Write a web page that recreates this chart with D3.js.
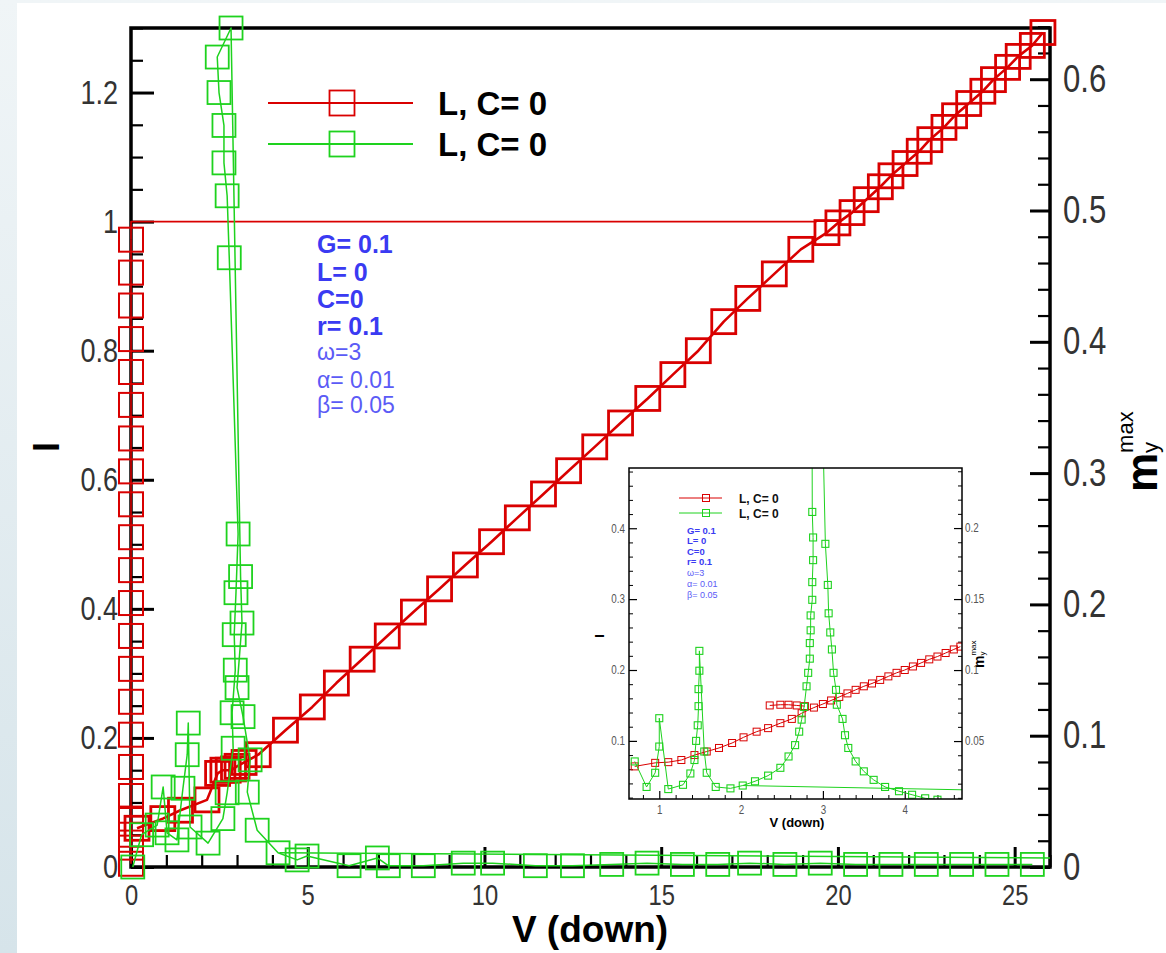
<!DOCTYPE html>
<html>
<head>
<meta charset="utf-8">
<script src="https://cdn.jsdelivr.net/npm/d3@7"></script>
<style>
body { margin: 0; background: #fff; }
svg { display: block; }
</style>
</head>
<body>
<script>
// ---------- main panel data ----------
// red, sweep along V = 0 (column of squares) and the jump at I = 1
const redColV = [0,0,0,0,0,0,0,0,0,0,0,0,0,0,0,0,0,0,0,0,0,0];
const redColI = [0.005,0.03,0.05,0.075,0.11,0.155,0.205,0.256,0.307,0.358,0.409,0.46,0.511,0.562,0.613,0.664,0.716,0.767,0.818,0.87,0.921,0.972];
const redTopV = [0, 0, 19.4];
const redTopI = [0.972, 1.0, 1.0];
// red, main diagonal branch
const redDiagV = [0.17,0.9,1.4,2.15,2.45,2.6,2.75,2.9,3.0,3.2,3.6,4.37,5.13,5.81,6.54,7.25,7.99,8.73,9.46,10.2,10.93,11.67,12.38,13.12,13.85,14.62,15.33,16.05,16.77,17.45,18.2,18.95,19.69,20.0,20.4,20.8,21.2,21.5,21.9,22.3,22.6,23.0,23.3,23.7,24.1,24.4,24.8,25.1,25.5,25.8];
const redDiagI = [0.06,0.075,0.088,0.104,0.145,0.15,0.15,0.152,0.156,0.162,0.174,0.212,0.248,0.285,0.322,0.358,0.395,0.431,0.468,0.504,0.541,0.578,0.614,0.651,0.688,0.726,0.763,0.80,0.845,0.881,0.919,0.957,0.983,0.998,1.014,1.034,1.054,1.071,1.09,1.109,1.127,1.146,1.164,1.183,1.202,1.22,1.239,1.256,1.273,1.293];
// green, main panel
const greenV = [0.05,0.3,0.74,0.91,1.02,1.3,1.47,1.59,1.62,1.67,2.18,2.6,2.72,2.89,2.86,2.95,2.92,2.97,3.03,2.78,2.72,2.63,2.63,2.49,2.44,2.83,3.1,3.14,3.0,3.17,3.37,3.29,3.57,4.16,4.7,4.98,6.17,6.97,7.28,8.27,9.4,10.23,11.44,12.49,13.6,14.6,15.6,16.6,17.5,18.5,19.5,20.5,21.5,22.5,23.5,24.5,25.5];
const greenI = [0.0,0.05,0.065,0.124,0.053,0.042,0.122,0.174,0.223,0.062,0.037,0.075,0.115,0.184,0.239,0.305,0.36,0.425,0.516,0.944,1.04,1.091,1.149,1.2,1.255,1.30,0.45,0.378,0.278,0.233,0.166,0.116,0.057,0.022,0.011,0.017,0.002,0.014,0.002,0.002,0.006,0.006,0.002,0.002,0.004,0.006,0.004,0.004,0.006,0.004,0.006,0.004,0.004,0.004,0.004,0.004,0.004];
const greenTailV = [4.2, 26];
const greenTailI = [0.022, 0.014];

const xTicks = [0,5,10,15,20,25];
const yTicks = [0,0.2,0.4,0.6,0.8,1,1.2];
const rTicks = [0,0.1,0.2,0.3,0.4,0.5,0.6];

// ---------- inset data ----------
const inRedV = [0.70,0.95,1.11,1.27,1.43,1.58,1.73,1.89,2.03,2.19,2.33,2.48,2.62,2.74,2.89,3.0,3.1,3.2,3.3,3.4,3.5,3.6,3.7,3.8,3.9,4.0,4.1,4.2,4.3,4.4,4.5,4.6,4.68];
const inRedI = [0.064,0.069,0.070,0.073,0.080,0.085,0.090,0.097,0.105,0.113,0.118,0.125,0.131,0.139,0.147,0.152,0.157,0.162,0.167,0.172,0.177,0.181,0.186,0.191,0.196,0.200,0.205,0.210,0.215,0.219,0.224,0.229,0.233];
const inRedFlatV = [2.35,2.48,2.58,2.68,2.78];
const inRedFlatI = [0.150,0.151,0.151,0.150,0.149];
const inGreenV = [0.70,0.845,0.95,1.0,1.0,1.11,1.29,1.38,1.43,1.45,1.47,1.48,1.48,1.49,1.49,1.55,1.58,1.69,1.87,2.02,2.17,2.33,2.48,2.58,2.66,2.71,2.74,2.77,2.80,2.82,2.84,2.84,2.85,2.85,2.87,2.87,2.88,2.88,2.87,2.86,2.93,3.03,3.06,3.07,3.09,3.11,3.13,3.16,3.17,3.24,3.27,3.31,3.40,3.50,3.62,3.76,3.93,4.09,4.25,4.40];
const inGreenI = [0.071,0.035,0.055,0.092,0.132,0.032,0.038,0.054,0.073,0.100,0.122,0.149,0.173,0.199,0.227,0.085,0.055,0.035,0.033,0.037,0.043,0.051,0.062,0.078,0.094,0.113,0.130,0.148,0.177,0.196,0.216,0.238,0.256,0.277,0.299,0.324,0.355,0.387,0.423,0.90,0.90,0.378,0.320,0.280,0.253,0.229,0.196,0.172,0.151,0.131,0.108,0.090,0.071,0.057,0.045,0.035,0.029,0.024,0.019,0.017];
const inGreenBackV = [2.02, 4.7];
const inGreenBackI = [0.037, 0.031];

const inXTicks = [1,2,3,4];
const inYTicks = [0.1,0.2,0.3,0.4];
const inRTicks = [0.05,0.1,0.15,0.2];

const legendLabels = ["L, C= 0", "L, C= 0"];
const notes = [
  {t: "G= 0.1", bold: true}, {t: "L= 0", bold: true}, {t: "C=0", bold: true},
  {t: "r= 0.1", bold: true}, {t: "\u03c9=3"}, {t: "\u03b1= 0.01"}, {t: "\u03b2= 0.05"}
];

const RED = "#d90000", GREEN = "#1ed21e";
const BLUE_B = "#3a3af2", BLUE = "#5b5bf6";
const SANS = "'Liberation Sans',Arial,sans-serif";
const NARROW_X = 0.82;   // tick labels are a condensed face: squeeze Liberation Sans

const W = 1166, H = 953;
const svg = d3.select("body").append("svg").attr("width", W).attr("height", H);

// slide background strip on the left / top
const defs = svg.append("defs");
const grad = defs.append("linearGradient").attr("id", "bg")
  .attr("x1", 0).attr("y1", 0).attr("x2", 0).attr("y2", 1);
grad.append("stop").attr("offset", 0).attr("stop-color", "#f0f5f7");
grad.append("stop").attr("offset", 1).attr("stop-color", "#d6e4ea");
svg.append("rect").attr("width", W).attr("height", H).attr("fill", "url(#bg)");
svg.append("rect").attr("x", 17).attr("y", 3).attr("width", W - 17).attr("height", H - 3).attr("fill", "#fff");

function zip(V, I) { return V.map((v, i) => [v, I[i]]); }

function minors(a, b, step, major) {
  return d3.range(a, b + step / 2, step).map(v => +v.toFixed(4))
    .filter(v => !major.some(m => Math.abs(m - v) < 1e-6));
}

// axes with inward ticks, labels outside
function axes(g, o) {
  const styleText = fs => sel => sel.selectAll("text")
    .attr("font-family", SANS).attr("fill", o.labelColor).attr("font-size", fs)
    .attr("x", function () { return (+this.getAttribute("x") || 0) / NARROW_X; })
    .attr("transform", `scale(${NARROW_X},1)`);
  const clean = sel => { sel.select(".domain").remove(); sel.selectAll("line").attr("stroke", "#000"); };
  const minorW = sel => sel.selectAll("line").attr("stroke-width", o.minorW);
  const majorW = sel => sel.selectAll("line").attr("stroke-width", o.majorW);

  // bottom
  g.append("g").attr("transform", `translate(0,${o.y0})`)
    .call(d3.axisBottom(o.x).tickValues(o.xMinor).tickSize(-o.minor).tickFormat(""))
    .call(clean).call(minorW);
  g.append("g").attr("transform", `translate(0,${o.y0})`)
    .call(d3.axisBottom(o.x).tickValues(o.xMajor).tickSize(-o.major).tickPadding(o.padB).tickFormat(d3.format("~g")))
    .call(clean).call(majorW).call(styleText(o.fsB));
  // left
  g.append("g").attr("transform", `translate(${o.x0},0)`)
    .call(d3.axisLeft(o.yL).tickValues(o.yMinor).tickSize(-o.minor).tickFormat(""))
    .call(clean).call(minorW);
  g.append("g").attr("transform", `translate(${o.x0},0)`)
    .call(d3.axisLeft(o.yL).tickValues(o.yMajor).tickSize(-o.majorL).tickPadding(o.padL).tickFormat(d3.format("~g")))
    .call(clean).call(majorW).call(styleText(o.fsL));
  // right
  g.append("g").attr("transform", `translate(${o.x1},0)`)
    .call(d3.axisRight(o.yR).tickValues(o.rMinor).tickSize(-o.minor).tickFormat(""))
    .call(clean).call(minorW);
  g.append("g").attr("transform", `translate(${o.x1},0)`)
    .call(d3.axisRight(o.yR).tickValues(o.rMajor).tickSize(-o.major).tickPadding(o.padR).tickFormat(d3.format("~g")))
    .call(clean).call(majorW).call(styleText(o.fsR));
}

function series(g, x, y, pts, o) {
  g.append("path").datum(pts)
    .attr("fill", "none").attr("stroke", o.color).attr("stroke-width", o.lw)
    .attr("stroke-linejoin", "round")
    .attr("d", d3.line().x(d => x(d[0])).y(d => y(d[1])));
  if (!o.size) return;
  g.append("g").selectAll("rect").data(pts).join("rect")
    .attr("x", d => x(d[0]) - o.size / 2).attr("y", d => y(d[1]) - o.size / 2)
    .attr("width", o.size).attr("height", o.size)
    .attr("fill", "none").attr("stroke", o.color).attr("stroke-width", o.mw);
}

// y-axis title "m_y^max" rotated
function mTitle(g, x, y, fs, fsSmall, sub, sup, ywidth) {
  const t = g.append("text").attr("transform", `translate(${x},${y}) rotate(-90)`)
    .attr("font-family", SANS).attr("fill", "#000");
  t.append("tspan").attr("font-weight", "bold").attr("font-size", fs).text("m");
  t.append("tspan").attr("font-size", fsSmall).attr("dy", sub).text("y");
  t.append("tspan").attr("font-size", fsSmall).attr("dx", -ywidth).attr("dy", sup - sub).text("max");
}

// ================= main panel =================
const x = d3.scaleLinear([0, 26], [131, 1050]);
const yL = d3.scaleLinear([0, 1.3], [867, 28]);
const yR = d3.scaleLinear([0, 0.639], [867, 28]);

const main = svg.append("g");
axes(main, {
  x, yL, yR, x0: 131, x1: 1050, y0: 867,
  xMajor: xTicks, xMinor: minors(0, 26, 1, xTicks),
  yMajor: yTicks, yMinor: minors(0, 1.3, 0.05, yTicks),
  rMajor: rTicks, rMinor: minors(0, 0.638, 0.02, rTicks),
  major: 20, majorL: 23, minor: 12, majorW: 3, minorW: 2.2,
  padB: 17, padL: 13, padR: 13, fsB: 29, fsL: 33, fsR: 38, labelColor: "#333"
});
main.append("rect").attr("x", 131).attr("y", 28).attr("width", 919).attr("height", 839)
  .attr("fill", "none").attr("stroke", "#000").attr("stroke-width", 3.5);

// data
series(main, x, yL, zip(redTopV, redTopI), {color: RED, lw: 1.6});
series(main, x, yL, zip(redColV, redColI), {color: RED, lw: 1.6, size: 24, mw: 2});
series(main, x, yL, zip(redDiagV, redDiagI), {color: RED, lw: 2.6, size: 24, mw: 2.8});
series(main, x, yL, zip(greenTailV, greenTailI), {color: GREEN, lw: 1.5});
series(main, x, yL, zip(greenV, greenI), {color: GREEN, lw: 1.5, size: 23, mw: 1.8});

// legend
const leg = main.append("g");
[RED, GREEN].forEach((c, i) => {
  const ly = 103 + i * 41;
  leg.append("line").attr("x1", 268).attr("x2", 413).attr("y1", ly).attr("y2", ly)
    .attr("stroke", c).attr("stroke-width", 1.8);
  leg.append("rect").attr("x", 342 - 12.5).attr("y", ly - 12.5).attr("width", 25).attr("height", 25)
    .attr("fill", "none").attr("stroke", c).attr("stroke-width", 1.8);
  leg.append("text").attr("x", 438).attr("y", ly + 12).attr("font-family", SANS)
    .attr("font-weight", "bold").attr("font-size", 33).attr("fill", "#000").text(legendLabels[i]);
});

// parameter notes
const noteY = [253, 281, 308, 335, 360, 388, 413];
notes.forEach((n, i) => {
  main.append("text").attr("x", 317).attr("y", noteY[i]).attr("font-family", SANS)
    .attr("font-weight", n.bold ? "bold" : "normal").attr("font-size", n.bold ? 25 : 23)
    .attr("fill", n.bold ? BLUE_B : BLUE).text(n.t);
});

// axis titles
main.append("text").attr("transform", "translate(59,447) rotate(-90)").attr("text-anchor", "middle")
  .attr("font-family", SANS).attr("font-weight", "bold").attr("font-size", 36).text("I");
main.append("text").attr("x", 590).attr("y", 942).attr("text-anchor", "middle")
  .attr("font-family", SANS).attr("font-weight", "bold").attr("font-size", 37).text("V (down)");
mTitle(main, 1157, 492, 44, 22, 1, -24, 11);

// ================= inset =================
const ix = d3.scaleLinear([0.63, 4.7], [629, 962]);
const iyL = d3.scaleLinear([0.018, 0.485], [799, 468]);
const iyR = d3.scaleLinear([0.0092, 0.2423], [799, 468]);

const ins = svg.append("g");
ins.append("rect").attr("x", 629).attr("y", 468).attr("width", 333).attr("height", 331).attr("fill", "#fff");
defs.append("clipPath").attr("id", "inclip").append("rect")
  .attr("x", 629).attr("y", 468).attr("width", 333).attr("height", 331);
axes(ins, {
  x: ix, yL: iyL, yR: iyR, x0: 629, x1: 962, y0: 799,
  xMajor: inXTicks, xMinor: minors(0.8, 4.6, 0.2, inXTicks),
  yMajor: inYTicks, yMinor: minors(0.02, 0.48, 0.02, inYTicks),
  rMajor: inRTicks, rMinor: minors(0.01, 0.24, 0.01, inRTicks),
  major: 8, majorL: 8, minor: 4, majorW: 1.2, minorW: 1,
  padB: 6, padL: 4, padR: 3, fsB: 12, fsL: 12, fsR: 12, labelColor: "#555"
});
const inData = ins.append("g").attr("clip-path", "url(#inclip)");
series(inData, ix, iyL, zip(inRedV, inRedI), {color: RED, lw: 1, size: 7, mw: 1});
series(inData, ix, iyL, zip(inRedFlatV, inRedFlatI), {color: RED, lw: 1, size: 7, mw: 1});
series(inData, ix, iyL, zip(inGreenBackV, inGreenBackI), {color: GREEN, lw: 1});
series(inData, ix, iyL, zip(inGreenV, inGreenI), {color: GREEN, lw: 1, size: 7, mw: 1.1});
ins.append("rect").attr("x", 629).attr("y", 468).attr("width", 333).attr("height", 331)
  .attr("fill", "none").attr("stroke", "#000").attr("stroke-width", 1.5);

[RED, GREEN].forEach((c, i) => {
  const ly = 498 + i * 15;
  ins.append("line").attr("x1", 679).attr("x2", 722).attr("y1", ly).attr("y2", ly)
    .attr("stroke", c).attr("stroke-width", 1);
  ins.append("rect").attr("x", 706 - 3.5).attr("y", ly - 3.5).attr("width", 7).attr("height", 7)
    .attr("fill", "none").attr("stroke", c).attr("stroke-width", 1);
  ins.append("text").attr("x", 739).attr("y", ly + 4.5).attr("font-family", SANS)
    .attr("font-weight", "bold").attr("font-size", 12).attr("fill", "#111").text(legendLabels[i]);
});
const inNoteY = [534, 544, 555, 565, 576, 587, 598];
notes.forEach((n, i) => {
  ins.append("text").attr("x", 687).attr("y", inNoteY[i]).attr("font-family", SANS)
    .attr("font-weight", n.bold ? "bold" : "normal").attr("font-size", n.bold ? 9.5 : 9)
    .attr("fill", n.bold ? BLUE_B : BLUE).text(n.t);
});
ins.append("text").attr("transform", "translate(604,636) rotate(-90)").attr("text-anchor", "middle")
  .attr("font-family", SANS).attr("font-weight", "bold").attr("font-size", 13).text("I");
ins.append("text").attr("x", 797).attr("y", 827).attr("text-anchor", "middle")
  .attr("font-family", SANS).attr("font-weight", "bold").attr("font-size", 13).text("V (down)");
mTitle(ins, 984, 668, 14, 8, 1, -8, 4);
</script>
</body>
</html>
